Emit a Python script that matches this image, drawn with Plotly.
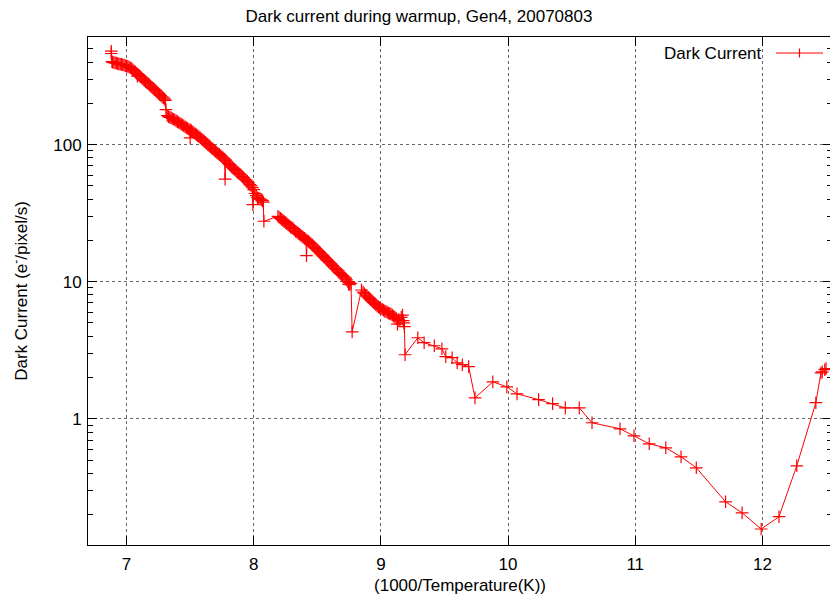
import plotly.graph_objects as go
import math

# 1000/T values and dark current (e-/pixel/s)
inv_temp = [6.88, 6.88, 6.885, 6.89, 6.90, 6.91, 6.92, 6.93, 6.94, 6.95, 6.96, 6.97, 6.98, 6.99,
            7.00, 7.01, 7.02, 7.03, 7.04, 7.05, 7.06, 7.07, 7.08, 7.085, 7.09, 7.10, 7.11, 7.12,
            7.13, 7.14, 7.15, 7.16, 7.17, 7.18, 7.19, 7.20, 7.21, 7.22, 7.23, 7.24, 7.25, 7.26,
            7.27, 7.28, 7.29, 7.30, 7.305, 7.31, 7.32, 7.33, 7.34, 7.35, 7.36, 7.37, 7.38, 7.39,
            7.40, 7.41, 7.42, 7.43, 7.44, 7.45, 7.46, 7.47, 7.48, 7.49, 7.50, 7.505, 7.51, 7.52,
            7.53, 7.54, 7.55, 7.56, 7.57, 7.58, 7.59, 7.60, 7.61, 7.62, 7.63, 7.64, 7.65, 7.66,
            7.67, 7.68, 7.69, 7.70, 7.71, 7.72, 7.73, 7.74, 7.75, 7.76, 7.77, 7.775, 7.78, 7.79,
            7.80, 7.81, 7.82, 7.83, 7.84, 7.85, 7.86, 7.87, 7.88, 7.89, 7.90, 7.91, 7.92, 7.93,
            7.94, 7.95, 7.96, 7.97, 7.98, 7.99, 7.993, 8.00, 8.01, 8.02, 8.03, 8.04, 8.05, 8.06,
            8.07, 8.075, 8.08, 8.19, 8.20, 8.21, 8.22, 8.23, 8.24, 8.25, 8.26, 8.27,
            8.28, 8.29, 8.30, 8.31, 8.32, 8.33, 8.34, 8.35, 8.36, 8.37, 8.38, 8.39, 8.40, 8.41,
            8.415, 8.42, 8.43, 8.44, 8.45, 8.46, 8.47, 8.48, 8.49, 8.50, 8.51, 8.52, 8.53, 8.54,
            8.55, 8.56, 8.57, 8.58, 8.59, 8.60, 8.61, 8.62, 8.63, 8.64, 8.65, 8.66, 8.67, 8.68,
            8.69, 8.70, 8.71, 8.72, 8.73, 8.74, 8.745, 8.75, 8.755, 8.765, 8.774, 8.847, 8.86,
            8.87, 8.88, 8.89, 8.90, 8.91, 8.92, 8.93, 8.94, 8.95, 8.96, 8.97, 8.98, 8.99, 9.00,
            9.01, 9.02, 9.03, 9.04, 9.05, 9.06, 9.07, 9.08, 9.09, 9.10, 9.11, 9.12, 9.13, 9.14,
            9.15, 9.16, 9.17, 9.175, 9.18, 9.185, 9.19, 9.29, 9.34, 9.42, 9.48, 9.51, 9.56, 9.60,
            9.64, 9.69, 9.74, 9.88, 9.99, 10.07, 10.24, 10.35, 10.45, 10.56, 10.66, 10.88, 10.99,
            11.11, 11.24, 11.36, 11.48, 11.71, 11.84, 11.99, 12.13, 12.27, 12.42, 12.46, 12.47,
            12.49, 12.50]

dark_current = [480, 462, 403, 400, 397, 395, 393, 390, 388, 386, 385, 383, 380, 377,
                374, 371, 368, 364, 359, 352, 345, 338, 331, 316, 325, 319, 313, 306,
                300, 294, 288, 283, 278, 273, 267, 262, 257, 252, 247, 242, 237, 232,
                228, 223, 219, 215, 210, 180, 163, 160, 158, 157, 155, 153, 151, 149,
                147, 145, 143, 141, 139, 137, 135, 133, 131, 129.5, 112, 128, 126, 124,
                122, 120, 118, 116, 114, 112, 110, 108, 106, 104, 102, 100, 98, 96,
                94, 92.5, 91, 89, 87.5, 86, 84.5, 83, 81.5, 80, 78.5, 56, 77, 75,
                73, 71.5, 70, 68.5, 67, 66, 64.5, 63, 62, 61, 60, 58.5, 57.5, 56,
                55, 54, 52.5, 51, 50, 48.5, 36.5, 47, 44, 42.5, 41, 40.5, 40, 39.5,
                39, 38, 27.6, 30, 29.5, 29, 28.5, 28, 27.5, 27, 26.5, 26,
                25.5, 25, 24.8, 24.4, 23.8, 23.3, 23, 22.5, 22.2, 21.8, 21.4, 21, 20.7, 20.3,
                15.5, 20, 19.7, 19.3, 19, 18.6, 18.2, 17.8, 17.4, 17, 16.6, 16.3, 15.9, 15.6,
                15.3, 15, 14.6, 14.3, 14, 13.7, 13.4, 13.1, 12.8, 12.5, 12.3, 12, 11.7, 11.5,
                11.3, 11.1, 10.9, 10.6, 10.3, 10, 9.6, 9.9, 9.5, 9.7, 4.3, 8.7, 8.4,
                8.2, 8.0, 7.85, 7.7, 7.55, 7.4, 7.25, 7.1, 6.95, 6.8, 6.65, 6.55, 6.45, 6.35,
                6.3, 6.2, 6.1, 6.05, 6.0, 5.9, 5.85, 5.8, 5.7, 5.6, 5.5, 5.4, 4.9, 5.3,
                5.2, 5.5, 5.7, 5.2, 5.0, 4.7, 2.93, 3.9, 3.59, 3.41, 3.24, 2.84, 2.79, 2.56,
                2.48, 2.40, 1.42, 1.86, 1.71, 1.52, 1.38, 1.29, 1.20, 1.20, 0.935, 0.845, 0.751,
                0.657, 0.614, 0.528, 0.439, 0.248, 0.206, 0.157, 0.193, 0.454, 1.31, 2.16, 2.20,
                2.28, 2.32]

x_ticks = [7, 8, 9, 10, 11, 12]
y_ticks = [1, 10, 100]
y_tick_labels = ["1", "10", "100"]

RED = "#ff0000"
FONT = "Liberation Sans"

fig = go.Figure()
fig.add_trace(go.Scatter(
    x=inv_temp, y=dark_current, mode="lines+markers", name="Dark Current",
    line=dict(color=RED, width=1),
    marker=dict(symbol="cross-thin", size=9, line=dict(color=RED, width=1.2), color=RED),
    showlegend=False,
))

# the page body adds an 8px offset; figure sized so that plot area lands at page 88..832 x 37..545
OFF = 8
W, H = 838 - OFF, 602 - OFF
L, R, T, B = 88 - OFF, 6, 37 - OFF, 57
pw = W - L - R
ph = H - T - B

def px_x(p):
    return (p - OFF - L) / pw

def px_y(p):
    return (H - B - (p - OFF)) / ph

# gnuplot-style key: text on the left, sample on the right
fig.add_annotation(x=px_x(764), y=px_y(53), xref="paper", yref="paper",
                   text="Dark Current", showarrow=False, xanchor="right", yanchor="middle",
                   font=dict(family=FONT, size=17, color="black"))
fig.add_shape(type="line", xref="paper", yref="paper",
              x0=px_x(776), x1=px_x(823), y0=px_y(53), y1=px_y(53),
              line=dict(color=RED, width=1))
fig.add_shape(type="line", xref="paper", yref="paper",
              x0=px_x(799.5), x1=px_x(799.5), y0=px_y(48.5), y1=px_y(57.5),
              line=dict(color=RED, width=1.2))

fig.update_layout(
    width=W, height=H,
    margin=dict(l=L, r=R, t=T, b=B, autoexpand=False),
    paper_bgcolor="white", plot_bgcolor="white",
    font=dict(family=FONT, size=16, color="black"),
    title=dict(text="Dark current during warmup, Gen4, 20070803", x=(419 - OFF) / W,
               xanchor="center", y=1 - 2.5 / H, yanchor="top", yref="container",
               font=dict(family=FONT, size=17)),
    xaxis=dict(
        range=[6.697, 12.547], tickvals=x_ticks, ticks="inside", ticklen=9,
        tickcolor="black", showline=True, linecolor="black", linewidth=1, mirror="ticks",
        showgrid=True, gridcolor="#666666", griddash="dot", gridwidth=1, zeroline=False,
        automargin=False, ticklabelstandoff=4,
        title=dict(text="(1000/Temperature(K))", font=dict(family=FONT, size=17), standoff=5),
        tickfont=dict(family=FONT, size=17),
    ),
    yaxis=dict(
        type="log", range=[math.log10(0.12), 2.785], tickvals=y_ticks, ticktext=y_tick_labels,
        ticks="inside", ticklen=9, tickcolor="black", showline=True, linecolor="black",
        linewidth=1, mirror="ticks", showgrid=True, gridcolor="#666666", griddash="dot",
        gridwidth=1, zeroline=False, automargin=False, ticklabelstandoff=2,
        minor=dict(ticks="inside", ticklen=5, tickcolor="black", showgrid=False,
                   tickvals=[0.2, 0.3, 0.4, 0.5, 0.6, 0.7, 0.8, 0.9, 2, 3, 4, 5, 6, 7, 8, 9,
                             20, 30, 40, 50, 60, 70, 80, 90, 200, 300, 400, 500]),
        title=dict(text="Dark Current (e<sup>-</sup>/pixel/s)", font=dict(family=FONT, size=17),
                   standoff=21),
        tickfont=dict(family=FONT, size=17),
    ),
)

fig.write_html("out.html")
